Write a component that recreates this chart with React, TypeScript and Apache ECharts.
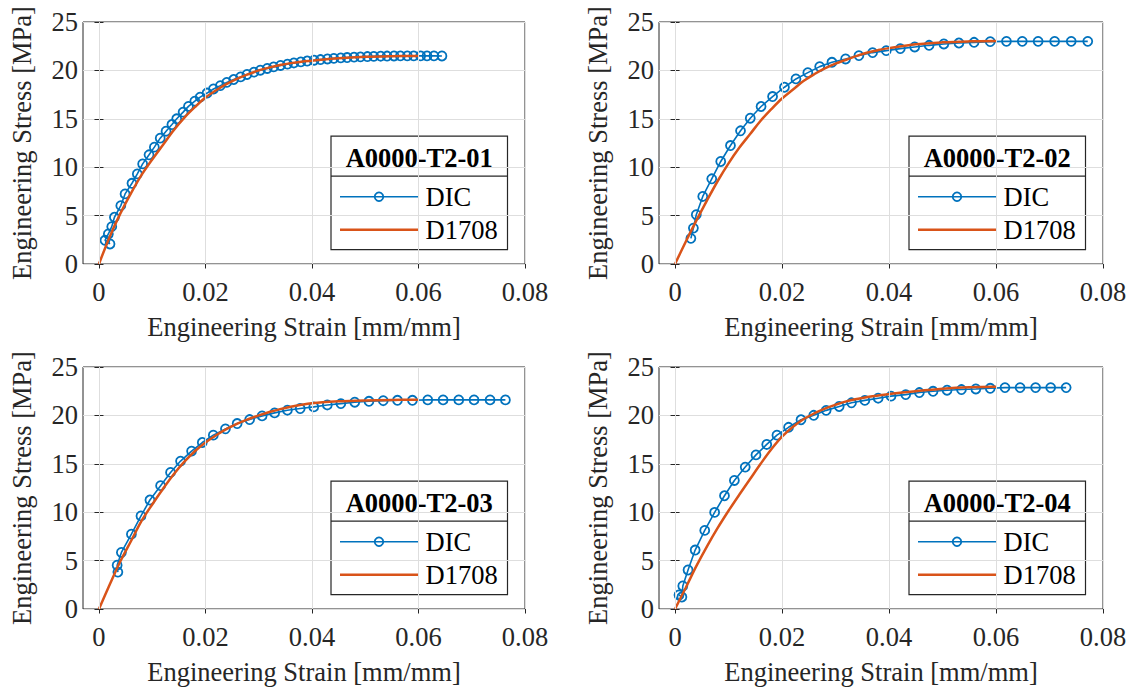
import React, { useEffect, useRef } from "react";
import * as echarts from "echarts";

// ---------- data ----------
const xTicks = [0, 0.02, 0.04, 0.06, 0.08];
const xMin = -0.003;
const xMax = 0.08;
const yMin = 0;
const yMax = 25;
const yStep = 5;

const specimenTitles = ["A0000-T2-01", "A0000-T2-02", "A0000-T2-03", "A0000-T2-04"];
const seriesNames = ["DIC", "D1708"];
const xAxisTitle = "Engineering Strain [mm/mm]";
const yAxisTitle = "Engineering Stress [MPa]";

const dic01: [number, number][] = [
  [0.00207, 2.07], [0.00113, 2.45], [0.00176, 3.1], [0.0024, 3.86], [0.0029, 4.83],
  [0.0041, 6.03], [0.0049, 7.24], [0.0062, 8.34], [0.0072, 9.31], [0.0082, 10.34],
  [0.0094, 11.28], [0.0104, 12.07], [0.0115, 13.0], [0.0126, 13.72], [0.0137, 14.41],
  [0.0146, 15.0], [0.0158, 15.69], [0.0168, 16.28], [0.018, 16.83], [0.019, 17.24],
  [0.0203, 17.66], [0.0215, 18.08], [0.0228, 18.43], [0.024, 18.76], [0.0253, 19.06],
  [0.0266, 19.33], [0.0278, 19.58], [0.0291, 19.82], [0.0303, 20.02], [0.0316, 20.2],
  [0.0328, 20.36], [0.0341, 20.51], [0.0354, 20.65], [0.0366, 20.77], [0.0379, 20.88],
  [0.0391, 20.97], [0.0404, 21.05], [0.0416, 21.12], [0.0429, 21.18], [0.0441, 21.24],
  [0.0454, 21.29], [0.0466, 21.33], [0.0479, 21.37], [0.0491, 21.4], [0.0504, 21.43],
  [0.0516, 21.45], [0.0529, 21.47], [0.0541, 21.48], [0.0554, 21.49], [0.0566, 21.5],
  [0.0579, 21.5], [0.0591, 21.5], [0.0604, 21.5], [0.0616, 21.5], [0.0629, 21.5],
  [0.0644, 21.49],
];
const d1708_01: [number, number][] = [
  [0, 0], [0.002, 2.8], [0.004, 5.2], [0.006, 7.3], [0.008, 9.2], [0.01, 10.8],
  [0.012, 12.3], [0.014, 13.8], [0.016, 15.1], [0.018, 16.2], [0.02, 17.2],
  [0.022, 17.95], [0.024, 18.6], [0.026, 19.15], [0.028, 19.6], [0.03, 20.0],
  [0.032, 20.3], [0.034, 20.55], [0.036, 20.75], [0.038, 20.9], [0.04, 21.0],
  [0.045, 21.25], [0.05, 21.4], [0.055, 21.47], [0.06, 21.5],
];

const dic02: [number, number][] = [
  [0.00296, 2.65], [0.00343, 3.71], [0.00397, 5.09], [0.00518, 6.98], [0.00686, 8.8],
  [0.00854, 10.59], [0.01036, 12.24], [0.01224, 13.76], [0.01406, 15.06], [0.01608, 16.27],
  [0.01823, 17.3], [0.02045, 18.26], [0.0226, 19.12], [0.02482, 19.77], [0.02704, 20.39],
  [0.02933, 20.84], [0.03188, 21.18], [0.03437, 21.53], [0.03693, 21.84], [0.03948, 22.04],
  [0.04211, 22.25], [0.0448, 22.42], [0.04749, 22.59], [0.05025, 22.73], [0.05307, 22.83],
  [0.0559, 22.9], [0.05892, 22.97], [0.06195, 23.0], [0.06491, 23.0], [0.06787, 23.0],
  [0.07096, 23.0], [0.07406, 23.0], [0.07715, 23.0],
];
const d1708_02: [number, number][] = [
  [0, 0], [0.002, 2.3], [0.004, 4.5], [0.006, 6.6], [0.008, 8.6], [0.01, 10.4],
  [0.012, 12.0], [0.014, 13.4], [0.016, 14.8], [0.018, 16.0], [0.02, 17.1],
  [0.022, 18.0], [0.024, 18.9], [0.026, 19.6], [0.028, 20.2], [0.03, 20.7],
  [0.032, 21.1], [0.034, 21.5], [0.036, 21.85], [0.038, 22.1], [0.04, 22.3],
  [0.045, 22.7], [0.05, 22.9], [0.055, 23.0], [0.06, 23.05],
];

const dic03: [number, number][] = [
  [0.00355, 3.81], [0.00341, 4.53], [0.00421, 5.84], [0.00609, 7.73], [0.00789, 9.62],
  [0.00957, 11.26], [0.01157, 12.74], [0.01344, 14.11], [0.01532, 15.28], [0.01739, 16.31],
  [0.0194, 17.2], [0.02147, 17.96], [0.02375, 18.61], [0.02595, 19.16], [0.02829, 19.57],
  [0.03063, 19.95], [0.03298, 20.26], [0.03538, 20.54], [0.03779, 20.71], [0.04033, 20.88],
  [0.04288, 21.08], [0.04542, 21.22], [0.04803, 21.36], [0.0507, 21.46], [0.05338, 21.52],
  [0.05605, 21.56], [0.05886, 21.56], [0.06174, 21.6], [0.06462, 21.6], [0.06756, 21.6],
  [0.07043, 21.6], [0.07344, 21.6], [0.07632, 21.6],
];
const d1708_03: [number, number][] = [
  [0, 0], [0.002, 2.5], [0.004, 4.9], [0.006, 7.0], [0.008, 9.1], [0.01, 10.8],
  [0.012, 12.4], [0.014, 13.9], [0.016, 15.2], [0.018, 16.3], [0.02, 17.2],
  [0.022, 17.95], [0.024, 18.6], [0.026, 19.15], [0.028, 19.6], [0.03, 20.0],
  [0.032, 20.35], [0.034, 20.65], [0.036, 20.9], [0.038, 21.1], [0.04, 21.25],
  [0.045, 21.45], [0.05, 21.55], [0.055, 21.6], [0.06, 21.62],
];

const dic04: [number, number][] = [
  [0.00074, 1.45], [0.00128, 1.24], [0.00145, 2.38], [0.00243, 4.03], [0.00376, 6.09],
  [0.00555, 8.12], [0.0074, 9.98], [0.00924, 11.7], [0.01109, 13.28], [0.01312, 14.66],
  [0.01513, 15.92], [0.01714, 17.0], [0.01905, 17.96], [0.02122, 18.77], [0.02355, 19.55],
  [0.02592, 20.01], [0.02825, 20.52], [0.03068, 20.92], [0.03298, 21.3], [0.03548, 21.55],
  [0.03797, 21.78], [0.04037, 21.99], [0.04312, 22.15], [0.04567, 22.36], [0.04823, 22.49],
  [0.05085, 22.6], [0.05354, 22.67], [0.05623, 22.73], [0.05892, 22.8], [0.06168, 22.87],
  [0.0645, 22.87], [0.0674, 22.87], [0.07022, 22.87], [0.07311, 22.87],
];
const d1708_04: [number, number][] = [
  [0, 0], [0.002, 2.2], [0.004, 4.45], [0.006, 6.5], [0.008, 8.4], [0.01, 10.15],
  [0.012, 11.8], [0.014, 13.4], [0.016, 15.0], [0.018, 16.5], [0.02, 17.8],
  [0.022, 18.8], [0.024, 19.6], [0.026, 20.2], [0.028, 20.7], [0.03, 21.1],
  [0.032, 21.45], [0.034, 21.7], [0.036, 21.9], [0.038, 22.05], [0.04, 22.2],
  [0.045, 22.5], [0.05, 22.75], [0.055, 22.9], [0.06, 22.95],
];

const dicSets = [dic01, dic02, dic03, dic04];
const d1708Sets = [d1708_01, d1708_02, d1708_03, d1708_04];

// ---------- style / layout ----------
const FONT = "Liberation Serif";
const FS = 26.5;
const TXT = "#262626";
const GRIDC = "#dedede";
const BLUE = "#0072BD";
const ORANGE = "#D95319";

const panels = [
  { left: 83, top: 22, width: 442, height: 242 },
  { left: 659, top: 22, width: 444, height: 242 },
  { left: 83, top: 367, width: 442, height: 242 },
  { left: 659, top: 367, width: 444, height: 242 },
];

const fmtX = (v: number) => String(Number(v.toFixed(2)));

function buildOption() {
  const grid: any[] = [];
  const xAxis: any[] = [];
  const yAxis: any[] = [];
  const series: any[] = [];
  const graphic: any[] = [];

  panels.forEach((p, i) => {
    grid.push({
      left: p.left, top: p.top, width: p.width, height: p.height,
      show: true, borderColor: TXT, borderWidth: 1, backgroundColor: "#fff",
    });
    xAxis.push({
      gridIndex: i, type: "value", min: xMin, max: xMax, position: "bottom",
      axisLine: { show: false },
      axisTick: { show: true, inside: true, length: 4.5, customValues: xTicks, lineStyle: { color: TXT } },
      axisLabel: { customValues: xTicks, formatter: fmtX, color: TXT, fontFamily: FONT, fontSize: FS, margin: 14 },
      splitLine: { show: false },
      name: xAxisTitle, nameLocation: "middle", nameGap: 49,
      nameTextStyle: { color: TXT, fontFamily: FONT, fontSize: FS },
    });
    xAxis.push({
      gridIndex: i, type: "value", min: xMin, max: xMax, position: "top",
      axisLine: { show: false },
      axisTick: { show: true, inside: true, length: 4.5, customValues: xTicks, lineStyle: { color: TXT } },
      axisLabel: { show: false }, splitLine: { show: false },
    });
    yAxis.push({
      gridIndex: i, type: "value", min: yMin, max: yMax, interval: yStep, position: "left",
      axisLine: { show: false },
      axisTick: { show: true, inside: true, length: 4.5, lineStyle: { color: TXT } },
      axisLabel: { color: TXT, fontFamily: FONT, fontSize: FS, margin: 5 },
      splitLine: { show: true, lineStyle: { color: GRIDC, width: 1 } },
      name: yAxisTitle, nameLocation: "middle", nameGap: 48,
      nameTextStyle: { color: TXT, fontFamily: FONT, fontSize: FS },
    });
    yAxis.push({
      gridIndex: i, type: "value", min: yMin, max: yMax, interval: yStep, position: "right",
      axisLine: { show: false },
      axisTick: { show: true, inside: true, length: 4.5, lineStyle: { color: TXT } },
      axisLabel: { show: false }, splitLine: { show: false },
    });

    // vertical grid lines at the x tick values
    series.push({
      type: "line", xAxisIndex: 2 * i, yAxisIndex: 2 * i, data: [], silent: true, z: 1,
      symbol: "none",
      markLine: {
        silent: true, symbol: ["none", "none"], label: { show: false },
        lineStyle: { color: GRIDC, width: 1, type: "solid" },
        emphasis: { disabled: true },
        data: xTicks.map((v) => ({ xAxis: v })),
      },
    });
    series.push({
      name: seriesNames[0], type: "line", xAxisIndex: 2 * i, yAxisIndex: 2 * i,
      data: dicSets[i], symbol: "circle", symbolSize: 9, showSymbol: true, z: 3,
      lineStyle: { color: BLUE, width: 1.6 },
      itemStyle: { color: "rgba(255,255,255,0)", borderColor: BLUE, borderWidth: 1.8 },
    });
    series.push({
      name: seriesNames[1], type: "line", xAxisIndex: 2 * i, yAxisIndex: 2 * i,
      data: d1708Sets[i], symbol: "none", smooth: 0.35, z: 4,
      lineStyle: { color: ORANGE, width: 2.5 },
    });

    // legend box
    const bw = 176.5, bh = 113.5;
    const bx = p.left + p.width - 17.5 - bw;
    const by = p.top + p.height - 14.3 - bh;
    graphic.push({
      type: "group", z: 100, silent: true,
      children: [
        { type: "rect", shape: { x: bx, y: by, width: bw, height: bh }, style: { fill: "#fff", stroke: TXT, lineWidth: 1.2 } },
        { type: "line", shape: { x1: bx, y1: by + 40, x2: bx + bw, y2: by + 40 }, style: { stroke: TXT, lineWidth: 1.2 } },
        { type: "text", x: bx + bw / 2, y: by + 22, style: { text: specimenTitles[i], fill: "#000", fontFamily: FONT, fontSize: FS, fontWeight: "bold", align: "center", verticalAlign: "middle" } },
        { type: "line", shape: { x1: bx + 9, y1: by + 60.5, x2: bx + 87.5, y2: by + 60.5 }, style: { stroke: BLUE, lineWidth: 1.6 } },
        { type: "circle", shape: { cx: bx + 48, cy: by + 60.5, r: 4.3 }, style: { fill: "rgba(255,255,255,0)", stroke: BLUE, lineWidth: 1.8 } },
        { type: "text", x: bx + 94.5, y: by + 61, style: { text: seriesNames[0], fill: "#000", fontFamily: FONT, fontSize: FS, align: "left", verticalAlign: "middle" } },
        { type: "line", shape: { x1: bx + 9, y1: by + 93.5, x2: bx + 87.5, y2: by + 93.5 }, style: { stroke: ORANGE, lineWidth: 2.5 } },
        { type: "text", x: bx + 94.5, y: by + 94, style: { text: seriesNames[1], fill: "#000", fontFamily: FONT, fontSize: FS, align: "left", verticalAlign: "middle" } },
      ],
    });
  });

  return {
    animation: false,
    backgroundColor: "#fff",
    textStyle: { fontFamily: FONT },
    grid, xAxis, yAxis, series, graphic,
  };
}

export default function App() {
  const ref = useRef<HTMLDivElement>(null);
  useEffect(() => {
    if (!ref.current) return;
    const chart = echarts.init(ref.current, null, { renderer: "svg" });
    chart.setOption(buildOption() as any);
    return () => chart.dispose();
  }, []);
  return (
    <div
      ref={ref}
      style={{ position: "fixed", left: 0, top: 0, width: 1134, height: 689, background: "#fff" }}
    />
  );
}
